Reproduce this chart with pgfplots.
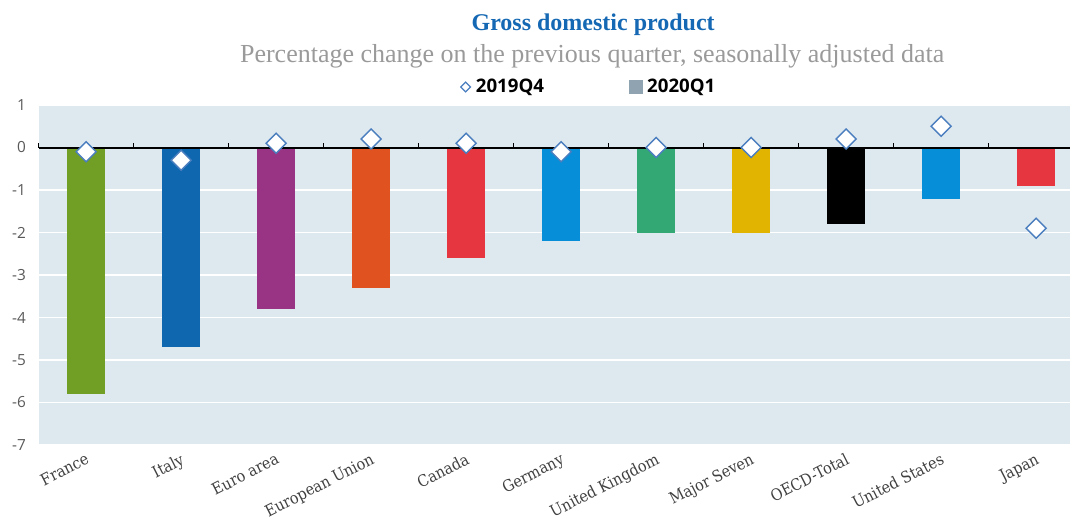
\documentclass[border=0pt]{standalone}
\usepackage{fontspec}
\setmainfont{Liberation Serif}
\newfontfamily\tickfont{Open Sans}
\newfontfamily\xfont{DejaVu Serif Condensed}
\usepackage{pgfplots}
\pgfplotsset{compat=1.18}
\definecolor{bgc}{HTML}{DEE8EF}
\definecolor{cFR}{HTML}{719F25}
\definecolor{cIT}{HTML}{0F67AF}
\definecolor{cEA}{HTML}{993484}
\definecolor{cEU}{HTML}{E05220}
\definecolor{cCA}{HTML}{E63640}
\definecolor{cDE}{HTML}{068FD8}
\definecolor{cUK}{HTML}{34A874}
\definecolor{cG7}{HTML}{E0B400}
\definecolor{cOE}{HTML}{000000}
\definecolor{cUS}{HTML}{068FD8}
\definecolor{cJP}{HTML}{E63640}
\definecolor{diamc}{HTML}{4A7EBF}
\definecolor{leggray}{HTML}{8FA3B1}
\definecolor{titlec}{HTML}{1568B3}
\definecolor{subc}{HTML}{9A9A9A}
\definecolor{tickc}{HTML}{595959}
\begin{document}
\begin{tikzpicture}
\begin{axis}[
  at={(0,0)}, anchor=south west,
  width=773.55pt, height=255pt, scale only axis,
  xmin=-0.5, xmax=10.357, ymin=-7, ymax=1,
  ytick={-7,-6,-5,-4,-3,-2,-1,0,1},
  yticklabels={-7,-6,-5,-4,-3,-2,-1,0,1},
  xtick={0,1,2,3,4,5,6,7,8,9,10},
  xticklabels={France,Italy,Euro area,European Union,Canada,Germany,United Kingdom,Major Seven,OECD-Total,United States,Japan},
  axis background/.style={fill=bgc},
  axis line style={draw=none},
  major tick length=0pt,
  ymajorgrids, grid style={white, line width=1.2pt},
  yticklabel style={font=\tickfont\fontsize{11.5}{13}\selectfont, text=tickc, anchor=east, xshift=-6pt},
  xticklabel style={font=\xfont\fontsize{12}{14}\selectfont, text=black!75, rotate=27, anchor=north east, yshift=-1pt},
  legend columns=2,
  legend style={draw=none, fill=none, at={(0.534,1.053)}, anchor=center,
    font=\tickfont\bfseries\fontsize{14}{16}\selectfont,
    /tikz/every even column/.append style={column sep=62pt},
    /tikz/every odd column/.append style={column sep=2pt}},
  clip=false,
]
\addlegendimage{only marks, mark=square, mark size=2.6pt, mark options={rotate=45, draw=diamc, line width=0.9pt, fill=white}}
\addlegendentry{2019Q4}
\addlegendimage{only marks, mark=square*, mark size=4.7pt, mark options={fill=leggray, draw=leggray}}
\addlegendentry{2020Q1}
\pgfplotsset{bb/.style={ybar, bar width=28.5pt, bar shift=0pt, draw=none, forget plot}}
\addplot[bb, fill=cFR] coordinates {(0,-5.8)};
\addplot[bb, fill=cIT] coordinates {(1,-4.7)};
\addplot[bb, fill=cEA] coordinates {(2,-3.8)};
\addplot[bb, fill=cEU] coordinates {(3,-3.3)};
\addplot[bb, fill=cCA] coordinates {(4,-2.6)};
\addplot[bb, fill=cDE] coordinates {(5,-2.2)};
\addplot[bb, fill=cUK] coordinates {(6,-2.0)};
\addplot[bb, fill=cG7] coordinates {(7,-2.0)};
\addplot[bb, fill=cOE] coordinates {(8,-1.8)};
\addplot[bb, fill=cUS] coordinates {(9,-1.2)};
\addplot[bb, fill=cJP] coordinates {(10,-0.9)};
\draw[black, line width=1.5pt] (axis cs:-0.5,0) -- (axis cs:10.357,0);
\pgfplotsinvokeforeach{-0.5,0.5,1.5,2.5,3.5,4.5,5.5,6.5,7.5,8.5,9.5}{
  \draw[black, line width=1pt] (axis cs:#1,0) -- (axis cs:#1,0.11);
}
\addplot[only marks, forget plot, mark=square*, mark size=5.3pt,
  mark options={rotate=45, fill=white, draw=diamc, line width=1.1pt}]
  coordinates {(0,-0.1) (1,-0.3) (2,0.1) (3,0.2) (4,0.1) (5,-0.1) (6,0.0) (7,0.0) (8,0.2) (9,0.5) (10,-1.9)};
\end{axis}
\node[anchor=base, text=titlec, font=\bfseries\fontsize{18}{20}\selectfont] at (415.9pt,310.5pt) {Gross domestic product};
\node[anchor=base, text=subc, font=\fontsize{19.5}{21}\selectfont] at (415.2pt,286.5pt) {Percentage change on the previous quarter, seasonally adjusted data};
\pgfresetboundingbox
\path (-28.95pt,-56.25pt) rectangle (773.55pt,333.75pt);
\end{tikzpicture}
\end{document}
